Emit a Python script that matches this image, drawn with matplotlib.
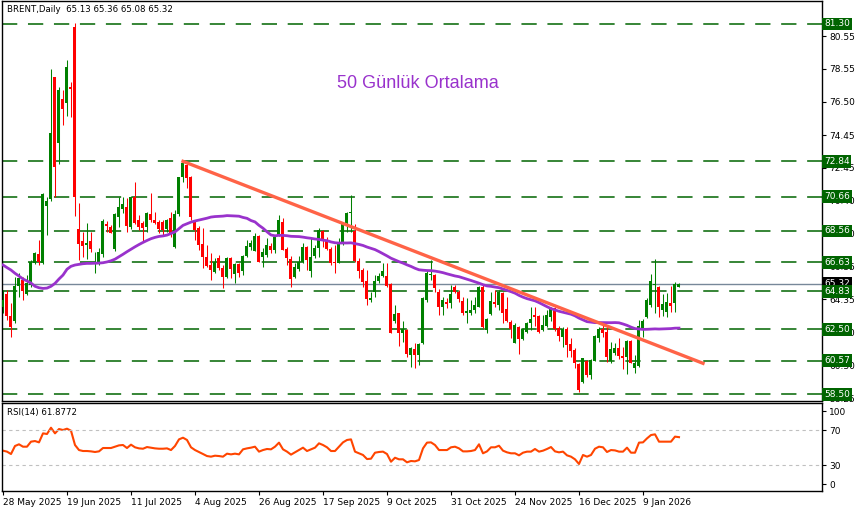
import matplotlib
matplotlib.use('Agg')
import matplotlib.pyplot as plt
import matplotlib.transforms as mtransforms
import numpy as np
import pandas as pd

# BRENT daily candles
open_ = [63.90, 64.67, 63.34, 63.03, 65.17, 65.54, 64.67, 65.23, 66.60, 67.11,
         66.60, 70.09, 70.50, 78.01, 73.95, 76.67, 76.45, 77.39, 81.09, 68.65,
         67.96, 67.67, 67.94, 66.52, 66.60, 67.14, 68.98, 68.82, 67.42, 69.43,
         69.88, 70.05, 68.82, 70.66, 69.23, 69.06, 68.78, 69.58, 69.23, 69.12,
         69.08, 68.70, 69.37, 67.59, 69.58, 71.85, 72.60, 71.89, 69.12, 68.71,
         67.73, 66.93, 66.46, 66.05, 66.87, 66.25, 65.74, 66.87, 65.90, 66.52,
         66.11, 67.01, 67.59, 67.34, 68.24, 66.93, 67.07, 67.63, 67.38, 68.30,
         69.12, 67.42, 66.81, 65.70, 66.19, 66.66, 67.59, 66.11, 67.01, 67.48,
         68.57, 68.03, 67.42, 66.66, 66.60, 67.79, 69.06, 69.64, 68.55, 66.72,
         66.15, 65.47, 64.30, 64.82, 65.49, 65.78, 65.78, 65.29, 63.03, 63.48,
         62.29, 62.46, 60.92, 61.29, 60.92, 61.64, 64.30, 65.82, 65.84, 64.82,
         63.89, 64.18, 64.14, 65.08, 64.82, 64.26, 63.53, 63.48, 63.69, 63.89,
         65.12, 62.46, 63.42, 64.20, 63.99, 64.71, 63.73, 62.97, 61.68, 62.66,
         61.88, 62.36, 62.91, 63.38, 63.34, 62.46, 62.70, 63.28, 63.80, 62.56,
         62.05, 62.50, 61.60, 61.23, 60.37, 59.28, 60.55, 59.69, 60.57, 61.95,
         62.50, 62.36, 60.57, 61.02, 61.33, 60.86, 60.82, 61.78, 60.10, 60.24,
         62.56, 63.24, 64.00, 65.20, 65.08, 63.69, 63.59, 64.10, 64.10, 65.13]
high = [64.90, 64.92, 64.10, 65.74, 65.95, 65.74, 65.84, 66.77, 67.28, 68.00,
        70.90, 70.66, 78.52, 78.05, 77.39, 77.23, 79.07, 77.74, 81.33, 70.25,
        68.51, 69.03, 68.51, 67.28, 67.48, 69.27, 69.19, 68.90, 69.68, 70.66,
        70.66, 70.56, 70.70, 71.55, 69.54, 69.19, 69.74, 70.87, 69.74, 69.23,
        69.23, 69.30, 69.74, 69.84, 71.90, 72.84, 72.84, 71.95, 69.25, 68.85,
        68.71, 67.70, 67.18, 66.87, 67.07, 66.46, 66.97, 66.97, 66.56, 66.56,
        67.07, 67.99, 68.03, 68.41, 68.30, 67.48, 68.10, 67.79, 68.30, 69.54,
        69.33, 67.59, 67.00, 66.56, 67.01, 67.79, 67.63, 68.10, 67.69, 68.71,
        68.61, 68.16, 67.59, 67.69, 68.10, 69.12, 69.74, 70.77, 68.98, 66.87,
        66.25, 66.15, 64.82, 65.84, 65.95, 66.56, 66.56, 65.33, 63.99, 63.53,
        63.03, 62.50, 61.43, 61.64, 61.64, 64.51, 66.15, 66.77, 65.90, 64.96,
        64.51, 64.41, 65.23, 65.23, 64.92, 64.51, 64.41, 64.30, 64.51, 65.17,
        65.23, 63.17, 64.82, 64.92, 64.92, 64.82, 64.51, 63.07, 62.87, 62.70,
        62.56, 62.97, 63.89, 63.85, 63.38, 63.38, 63.69, 63.89, 63.89, 62.70,
        62.66, 62.66, 61.95, 61.33, 60.45, 60.75, 60.61, 60.65, 62.15, 62.62,
        62.77, 62.66, 61.74, 61.64, 61.95, 61.43, 61.84, 61.84, 60.92, 63.07,
        63.11, 64.41, 65.90, 66.81, 65.17, 64.67, 64.71, 65.17, 65.43, 65.36]
low = [63.50, 63.07, 62.05, 62.90, 64.51, 64.30, 64.61, 65.12, 66.55, 66.46,
       66.55, 68.30, 70.40, 70.66, 72.67, 75.07, 75.63, 75.58, 69.49, 66.77,
       66.97, 66.80, 67.28, 65.95, 66.46, 66.97, 68.51, 68.40, 67.34, 68.82,
       69.64, 68.51, 68.70, 68.98, 68.61, 67.89, 68.51, 69.12, 68.98, 68.41,
       68.30, 68.50, 68.20, 67.52, 69.50, 71.60, 71.20, 69.23, 67.99, 67.38,
       66.25, 66.36, 65.54, 65.95, 66.15, 65.02, 65.64, 65.64, 65.33, 65.74,
       65.84, 66.97, 67.38, 67.30, 66.66, 66.36, 66.97, 67.18, 67.18, 68.24,
       67.38, 66.46, 65.08, 65.64, 66.11, 66.56, 66.15, 65.70, 66.87, 66.97,
       67.59, 67.38, 66.46, 65.95, 66.56, 67.69, 68.51, 68.51, 66.66, 65.64,
       65.12, 64.00, 64.20, 64.51, 65.33, 65.74, 65.12, 62.29, 62.87, 61.47,
       61.74, 60.82, 60.20, 60.10, 60.30, 61.60, 64.20, 65.53, 64.82, 63.38,
       63.38, 63.79, 63.79, 64.71, 64.20, 63.38, 62.87, 63.38, 63.48, 63.85,
       62.56, 62.29, 63.38, 63.89, 63.69, 62.87, 62.97, 61.94, 61.64, 60.98,
       61.84, 62.29, 62.46, 62.70, 62.25, 62.42, 62.66, 63.03, 62.42, 61.80,
       61.43, 60.78, 60.82, 60.10, 58.66, 59.22, 59.55, 59.43, 60.55, 61.74,
       62.00, 60.51, 60.45, 60.92, 60.65, 60.04, 59.75, 60.41, 59.79, 60.20,
       62.00, 63.18, 63.85, 63.48, 63.28, 63.32, 63.28, 63.59, 63.59, 65.08]
close = [64.30, 63.34, 62.66, 65.17, 65.68, 64.88, 65.33, 66.66, 67.18, 66.62,
         70.83, 70.39, 74.56, 72.51, 77.23, 76.06, 78.66, 77.27, 70.66, 67.75,
         67.65, 67.83, 67.42, 66.66, 67.24, 69.17, 68.86, 68.45, 69.60, 70.01,
         70.21, 68.86, 70.66, 69.06, 68.82, 68.71, 69.68, 69.23, 69.06, 68.67,
         68.61, 69.20, 68.30, 69.58, 71.85, 72.75, 71.79, 69.43, 68.61, 67.69,
         66.93, 66.40, 66.15, 66.66, 66.25, 65.74, 66.87, 66.19, 66.52, 65.95,
         67.01, 67.63, 67.79, 68.24, 66.66, 67.28, 67.69, 67.38, 68.16, 69.23,
         67.38, 66.87, 65.58, 66.31, 66.66, 67.59, 66.77, 66.93, 67.48, 68.61,
         68.03, 67.42, 66.60, 66.56, 67.79, 69.06, 69.68, 69.68, 66.72, 66.11,
         65.43, 64.35, 64.45, 65.49, 65.78, 66.11, 65.17, 62.29, 63.44, 62.29,
         62.50, 60.98, 61.33, 60.92, 61.60, 64.41, 65.95, 65.90, 65.02, 63.85,
         64.30, 64.04, 64.67, 64.82, 64.35, 63.48, 63.61, 63.69, 63.99, 65.12,
         62.66, 63.11, 64.26, 64.05, 64.82, 63.53, 63.03, 62.50, 62.77, 61.88,
         62.50, 62.91, 63.11, 63.28, 62.36, 62.77, 63.38, 63.80, 62.50, 62.09,
         62.52, 61.54, 61.19, 60.41, 58.77, 60.71, 59.69, 60.61, 62.09, 62.54,
         62.29, 60.82, 61.27, 61.33, 60.86, 60.76, 61.78, 60.45, 60.45, 62.70,
         63.03, 64.30, 65.47, 65.30, 63.85, 64.06, 64.20, 63.94, 65.29, 65.32]

# 50 day average for the first 49 bars (earlier history is off the chart)
ma50_head = [66.46, 66.30, 66.15, 65.95, 65.78, 65.60, 65.48, 65.35, 65.15, 65.06,
             65.02, 65.04, 65.15, 65.33, 65.60, 65.84, 66.20, 66.38, 66.46, 66.50,
             66.54, 66.56, 66.56, 66.57, 66.58, 66.60, 66.65, 66.72, 66.82, 66.97,
             67.12, 67.28, 67.43, 67.58, 67.72, 67.85, 67.97, 68.08, 68.16, 68.22,
             68.25, 68.30, 68.40, 68.50, 68.70, 68.90, 69.00, 69.10, 69.17]

rsi = [46.6, 45.5, 42.8, 51.9, 53.8, 51.1, 51.1, 56.8, 57.5, 56.0,
       66.2, 65.5, 72.6, 66.2, 71.1, 70.0, 71.5, 69.2, 53.0, 47.3,
       46.2, 46.2, 45.8, 45.1, 45.8, 49.6, 49.6, 49.6, 51.1, 52.6,
       53.0, 49.6, 53.4, 50.4, 49.2, 48.8, 50.7, 50.0, 49.2, 48.8,
       48.8, 49.2, 47.3, 51.9, 59.4, 61.3, 58.7, 50.4, 47.3, 45.1,
       42.8, 40.5, 39.8, 40.9, 40.5, 39.8, 43.2, 42.4, 43.2, 42.4,
       48.1, 49.2, 50.0, 51.1, 45.5, 47.3, 48.5, 48.1, 51.1, 55.7,
       48.1, 45.5, 42.1, 44.7, 47.3, 50.0, 46.2, 48.1, 50.0, 54.9,
       53.0, 50.4, 46.2, 46.2, 51.1, 56.0, 58.7, 59.4, 45.5, 43.6,
       41.7, 37.1, 37.5, 44.3, 45.1, 45.5, 42.8, 34.1, 38.6, 36.8,
       36.8, 33.4, 34.9, 34.5, 36.0, 49.2, 55.7, 56.0, 53.0, 47.3,
       47.3, 47.3, 50.4, 51.1, 49.2, 45.8, 45.8, 46.2, 47.3, 53.8,
       43.6, 45.8, 50.4, 50.4, 52.2, 46.6, 44.7, 43.6, 43.6, 41.3,
       44.3, 45.5, 45.5, 48.5, 45.5, 46.6, 48.5, 50.7, 45.8, 44.7,
       45.5, 41.3, 39.8, 36.8, 31.5, 41.7, 39.8, 41.7, 48.8, 51.1,
       50.4, 45.1, 47.3, 46.9, 45.5, 45.5, 50.0, 44.3, 44.3, 55.7,
       56.0, 60.5, 64.3, 65.1, 56.8, 56.8, 56.8, 56.8, 62.5, 61.9]

levels = [81.30, 72.84, 70.66, 68.56, 66.63, 64.83, 62.50, 60.57, 58.50]
price_ticks = [80.55, 78.55, 76.50, 74.45, 72.45, 70.40, 68.40, 66.35, 64.35,
               62.30, 60.30, 58.25]
date_labels = ['28 May 2025', '19 Jun 2025', '11 Jul 2025', '4 Aug 2025',
               '26 Aug 2025', '17 Sep 2025', '9 Oct 2025', '31 Oct 2025',
               '24 Nov 2025', '16 Dec 2025', '9 Jan 2026']
trend_x = [45, 175]
trend_y = [72.84, 60.41]
last_price = 65.32

n = len(close)
x = np.arange(n)
o = np.array(open_)
c = np.array(close)
up = c >= o
cols = np.where(up, '#008000', '#FF0000')

ma = pd.Series(close).rolling(50).mean().to_numpy()
ma[:49] = ma50_head

fig = plt.figure(figsize=(8.62, 5.12), dpi=100)
ax = fig.add_axes([2/862, 111/512, 820/862, 400/512])
ax2 = fig.add_axes([2/862, 21/512, 820/862, 88/512])

for lv in levels:
    ax.axhline(lv, color='#006400', lw=1.1, ls=(0, (10, 7)), zorder=1)
ax.axhline(last_price, color='#778899', lw=1, zorder=1)

ax.vlines(x, low, high, colors=cols, lw=0.75, zorder=2)
body_lo = np.minimum(o, c)
body_h = np.maximum(np.abs(c - o), 0.06)
ax.bar(x, body_h, bottom=body_lo, width=0.75, color=cols, linewidth=0, zorder=3)

ax.plot(x, ma, color='#9932CC', lw=2, zorder=4)
ax.plot(trend_x, trend_y, color='#FF6347', lw=2.4, zorder=5)

ax.text(83.5, 77.66, '50 Günlük Ortalama', color='#9932CC', fontsize=13,
        family='Liberation Sans', va='center', ha='left')

ax.set_xlim(-0.25, 204.75)
ax.set_ylim(58.09, 82.71)
ax.set_xticks([])
ax.yaxis.tick_right()
ax.set_yticks(price_ticks)
ax.set_yticklabels(['%.2f' % t for t in price_ticks])
ax.tick_params(axis='y', direction='out', length=3, width=0.8, pad=2,
               labelsize=6.5, colors='black')

trans = mtransforms.blended_transform_factory(ax.transAxes, ax.transData)
ax.text(1.0 + 2/820, last_price, '%.2f' % last_price, transform=trans,
        fontsize=6.5, color='white', va='center', ha='left', clip_on=False, zorder=6,
        bbox=dict(boxstyle='square,pad=0.2', fc='black', ec='none'))
for lv in levels:
    ax.text(1.0 + 2/820, lv, '%.2f' % lv, transform=trans,
            fontsize=6.5, color='white', va='center', ha='left', clip_on=False, zorder=7,
            bbox=dict(boxstyle='square,pad=0.2', fc='#006400', ec='none'))

ax2.plot(x, rsi, color='#FF4500', lw=1.5)
ax2.axhline(70, color='#C0C0C0', lw=0.8, ls=(0, (3, 3)))
ax2.axhline(30, color='#C0C0C0', lw=0.8, ls=(0, (3, 3)))
ax2.set_xlim(-0.25, 204.75)
ax2.set_ylim(0.9, 100.6)
ax2.yaxis.tick_right()
ax2.set_yticks([8.8, 30, 70, 91.5])
ax2.set_yticklabels(['0', '30', '70', '100'])
ax2.tick_params(axis='y', direction='out', length=3, width=0.8, pad=2, labelsize=6.5)
ax2.set_xticks(np.arange(0, 161, 16))
ax2.set_xticklabels(date_labels, ha='left')
ax2.tick_params(axis='x', direction='out', length=3, width=0.8, pad=2, labelsize=6.5)

for a in (ax, ax2):
    for s in a.spines.values():
        s.set_color('black')
        s.set_linewidth(1)

fig.text(7/862, 1 - 10/512, 'BRENT,Daily  65.13 65.36 65.08 65.32', fontsize=6.2,
         va='center', ha='left')
fig.text(7/862, 1 - 413/512, 'RSI(14) 61.8772', fontsize=6.2, va='center', ha='left')

fig.savefig('out.png', dpi=100, facecolor='white')
